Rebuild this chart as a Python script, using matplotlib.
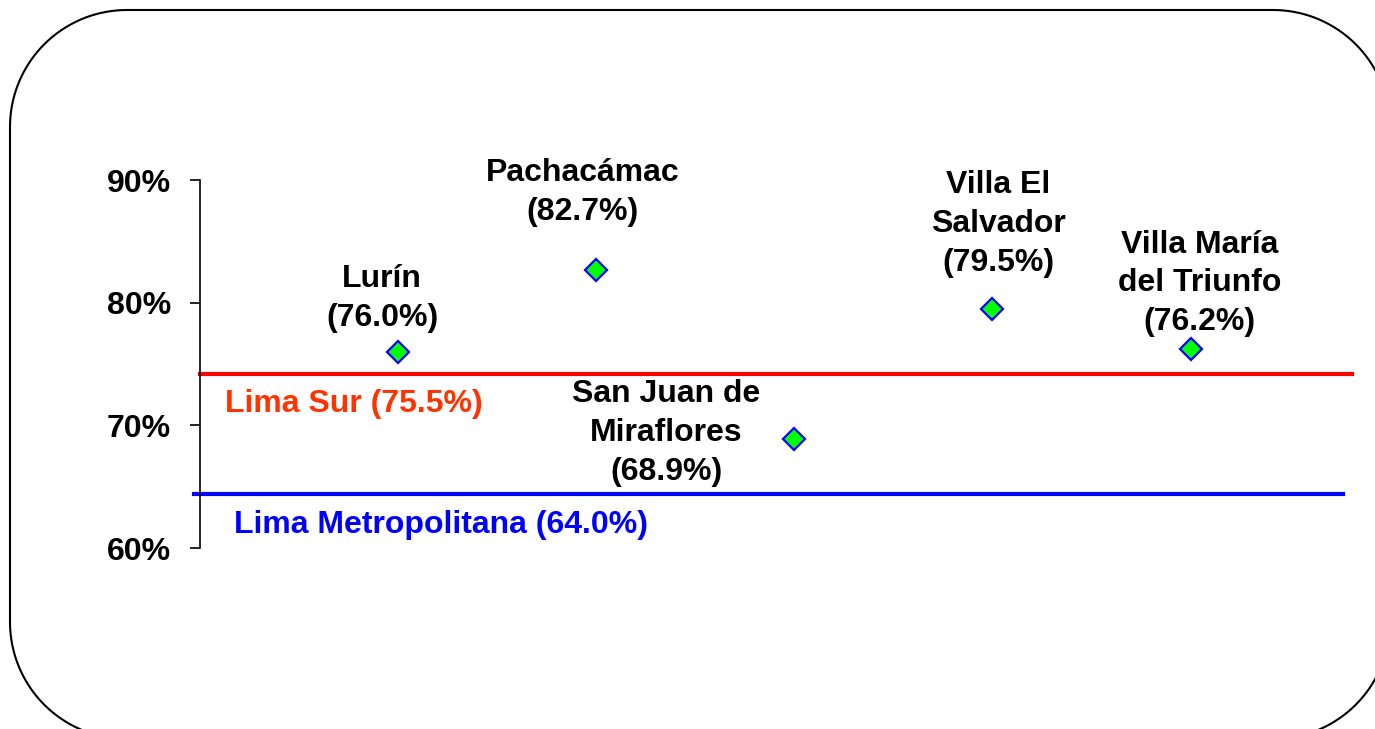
import matplotlib
matplotlib.use('Agg')
import matplotlib.pyplot as plt
import numpy as np
from matplotlib.patches import Polygon
from matplotlib.transforms import IdentityTransform

districts = ['Lurín', 'Pachacámac', 'San Juan de\nMiraflores', 'Villa El\nSalvador', 'Villa María\ndel Triunfo']
values = [76.0, 82.7, 68.9, 79.5, 76.2]
# reference lines (position as drawn in the picture) and their labels
ref_levels = [74.2, 64.4]
ref_labels = ['Lima Sur (75.5%)', 'Lima Metropolitana (64.0%)']
yticks = [60, 70, 80, 90]

plt.rcParams['font.family'] = ['Liberation Sans', 'DejaVu Sans']
plt.rcParams['font.weight'] = 'bold'

fig = plt.figure(figsize=(13.75, 7.29), dpi=100)
ax = fig.add_axes([200/1375, 181/729, 1152/1375, 368/729])

# rounded frame around the whole chart (pixel coords, origin bottom-left)
x0, y0, x1, y1, r = 10, -10, 1390, 719, 117
pts = []
for cx, cy, a0 in [(x1 - r, y1 - r, 0), (x0 + r, y1 - r, 90), (x0 + r, y0 + r, 180), (x1 - r, y0 + r, 270)]:
    a = np.radians(np.linspace(a0, a0 + 90, 40))
    pts += list(zip(cx + r * np.cos(a), cy + r * np.sin(a)))
frame = Polygon(pts, closed=True, transform=IdentityTransform(), facecolor='none',
                edgecolor='black', linewidth=1.5, clip_on=False)
fig.patches.append(frame)

xs = list(range(1, len(values) + 1))
ax.set_xlim(0, 5.815)
ax.set_ylim(60, 90)

fs = 23
# reference lines
ax.plot([0, 5.815], [ref_levels[0]] * 2, color='#ff0000', lw=3, clip_on=False, zorder=2)
ax.plot([-0.03, 5.77], [ref_levels[1]] * 2, color='#0000ff', lw=3, clip_on=False, zorder=2)
ax.text(0.125, ref_levels[0] - 2.5, ref_labels[0], color='#ff3300', fontsize=fs,
        fontweight='bold', ha='left', va='center')
ax.text(0.17, ref_levels[1] - 2.5, ref_labels[1], color='#0000ff', fontsize=fs,
        fontweight='bold', ha='left', va='center')

ax.plot(xs, values, linestyle='none', marker='D', ms=11.5, mfc='#00ff00', mec='#0000ff',
        mew=1.6, zorder=3, clip_on=False)

offsets = [(-16, 53), (-14, 77), (-128, 6), (6, 85), (9, 66)]
for x, v, name, off in zip(xs, values, districts, offsets):
    ax.annotate('{}\n({:.1f}%)'.format(name, v), (x, v), xytext=off, textcoords='offset pixels',
                ha='center', va='center', fontsize=fs, fontweight='bold',
                linespacing=1.38, multialignment='center')

ax.set_yticks(yticks)
ax.set_yticklabels(['{}%'.format(t) for t in yticks], fontsize=fs, fontweight='bold')
ax.tick_params(axis='y', direction='out', length=7, width=1.2, pad=14)
ax.set_xticks([])
for s in ['top', 'right', 'bottom']:
    ax.spines[s].set_visible(False)
ax.spines['left'].set_linewidth(1.2)
ax.patch.set_visible(False)

fig.savefig('out.png', dpi=100)
